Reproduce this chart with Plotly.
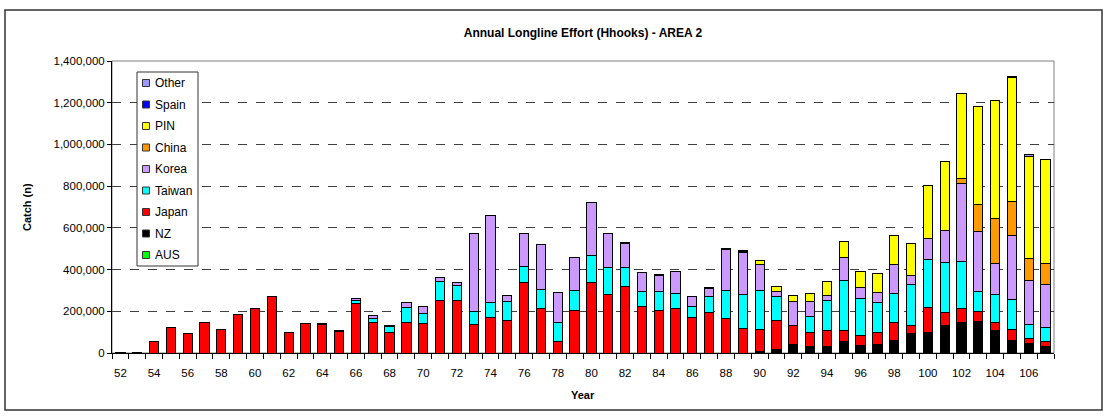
import plotly.graph_objects as go

years = list(range(52, 108))

aus = [0] * 56
nz = [0] * 38 + [5000, 19000, 40000, 30000, 30000, 54000, 35000, 42000, 61000, 94000,
                 96000, 134000, 144000, 149000, 109000, 61000, 46000, 30000]
japan = [4000, 4000, 56000, 120000, 94000, 144000, 115000, 187000, 213000, 270000,
         99000, 142000, 136000, 102000, 238000, 145000, 96000, 145000, 142000, 254000,
         251000, 138000, 171000, 158000, 336000, 211000, 53000, 206000, 336000, 280000,
         320000, 225000, 205000, 214000, 171000, 195000, 166000, 118000, 107000, 138000,
         90000, 69000, 79000, 53000, 51000, 57000, 86000, 39000, 123000, 61000,
         70000, 51000, 38000, 51000, 23000, 26000]
taiwan = [0] * 14 + [13000, 21000, 30000, 74000, 48000, 88000, 74000, 63000, 70000, 88000,
                     81000, 93000, 94000, 95000, 131000, 132000, 92000, 69000, 91000, 72000,
                     54000, 75000, 135000, 162000, 189000, 113000, 0, 78000, 145000, 243000,
                     173000, 144000, 136000, 196000, 230000, 240000, 226000, 93000, 135000, 146000,
                     69000, 67000]
korea = [0] * 12 + [7000, 7000, 11000, 13000, 7000, 22000, 32000, 22000, 11000, 374000,
                    419000, 31000, 158000, 217000, 144000, 156000, 256000, 159000, 112000, 90000,
                    74000, 104000, 47000, 39000, 195000, 200000, 124000, 24000, 115000, 68000,
                    21000, 110000, 54000, 46000, 142000, 44000, 101000, 153000, 372000, 291000,
                    148000, 306000, 211000, 206000]
china = [0] * 50 + [26000, 127000, 214000, 164000, 102000, 101000]
pin = [0] * 37 + [8000, 20000, 26000, 32000, 41000, 70000, 76000, 80000, 93000, 140000,
                  153000, 254000, 330000, 407000, 472000, 569000, 591000, 490000, 499000]
spain = [0] * 56
other = [0] * 30 + [7000, 0, 4000, 3000, 0, 6000, 6000, 4000] + [0] * 15 + [8000, 9000, 0]

series = [
    ("AUS", aus, "#00FF00"),
    ("NZ", nz, "#000000"),
    ("Japan", japan, "#FF0000"),
    ("Taiwan", taiwan, "#00FFFF"),
    ("Korea", korea, "#CC99FF"),
    ("China", china, "#FF9900"),
    ("PIN", pin, "#FFFF00"),
    ("Spain", spain, "#0000FF"),
    ("Other", other, "#9999FF"),
]

font = "Arial, Liberation Sans, sans-serif"

# plot area in page pixels: x 112..1054, y 61..353
def px(x):
    return (x - 112) / 942

def py(y):
    return (353 - y) / 292

fig = go.Figure()
for name, vals, col in series:
    fig.add_trace(go.Bar(
        x=years, y=[v if v else None for v in vals], name=name,
        marker=dict(color=col, line=dict(color="black", width=1)),
    ))

fig.update_layout(
    barmode="stack", bargap=0.45,
    width=1105, height=417,
    margin=dict(l=112, r=51, t=61, b=64),
    paper_bgcolor="white", plot_bgcolor="white",
    font=dict(family=font, size=11, color="black"),
    title=dict(text="<b>Annual Longline Effort (Hhooks) - AREA 2</b>",
               x=0.5, xref="paper", y=1 - 33 / 417, yanchor="middle",
               font=dict(size=12)),
    showlegend=False,
)

fig.update_xaxes(
    range=[51.5, 107.5], tick0=52, dtick=2, ticks="outside", ticklen=9,
    tickcolor="rgba(0,0,0,0)", showgrid=False,
    showline=True, linecolor="black", linewidth=1,
    minor=dict(tick0=51.5, dtick=1, ticks="outside", ticklen=5, tickcolor="black"),
    tickfont=dict(size=11.5),
)
fig.update_yaxes(
    range=[0, 1400000], dtick=200000, tickformat=",", ticks="outside", ticklen=4,
    tickcolor="black", showline=True, linecolor="black", linewidth=1,
    showgrid=True, gridcolor="#404040", griddash="dash", gridwidth=1,
    zeroline=False, tickfont=dict(size=11.5),
)

# plot area frame and outer chart frame
fig.add_shape(type="rect", xref="paper", yref="paper", x0=0, x1=1, y0=0, y1=1,
              line=dict(color="#808080", width=1), layer="below")
fig.add_shape(type="rect", xref="paper", yref="paper",
              x0=px(5), x1=px(1102), y0=py(410), y1=py(10),
              line=dict(color="#333333", width=1.5))

# legend box drawn by hand (Excel style)
fig.add_shape(type="rect", xref="paper", yref="paper",
              x0=px(137), x1=px(198), y0=py(266), y1=py(72),
              line=dict(color="#333333", width=1), fillcolor="white")
for i, (name, vals, col) in enumerate(reversed(series)):
    yc = 83 + i * 21.5
    fig.add_shape(type="rect", xref="paper", yref="paper",
                  x0=px(142.5), x1=px(149.5), y0=py(yc + 3.5), y1=py(yc - 3.5),
                  line=dict(color="#333333", width=1), fillcolor=col)
    fig.add_annotation(text=name, xref="paper", yref="paper", x=px(153), y=py(yc),
                       xanchor="left", yanchor="middle", showarrow=False,
                       font=dict(size=12))

fig.add_annotation(text="<b>Catch (n)</b>", textangle=-90, xref="paper", yref="paper",
                   x=px(27), y=0.5, xanchor="center", yanchor="middle",
                   showarrow=False, font=dict(size=11))
fig.add_annotation(text="<b>Year</b>", xref="paper", yref="paper",
                   x=0.5, y=py(395), xanchor="center", yanchor="middle",
                   showarrow=False, font=dict(size=11))

fig.write_html("out.html", config={"displayModeBar": False},
               post_script="document.body.style.margin='0';")
